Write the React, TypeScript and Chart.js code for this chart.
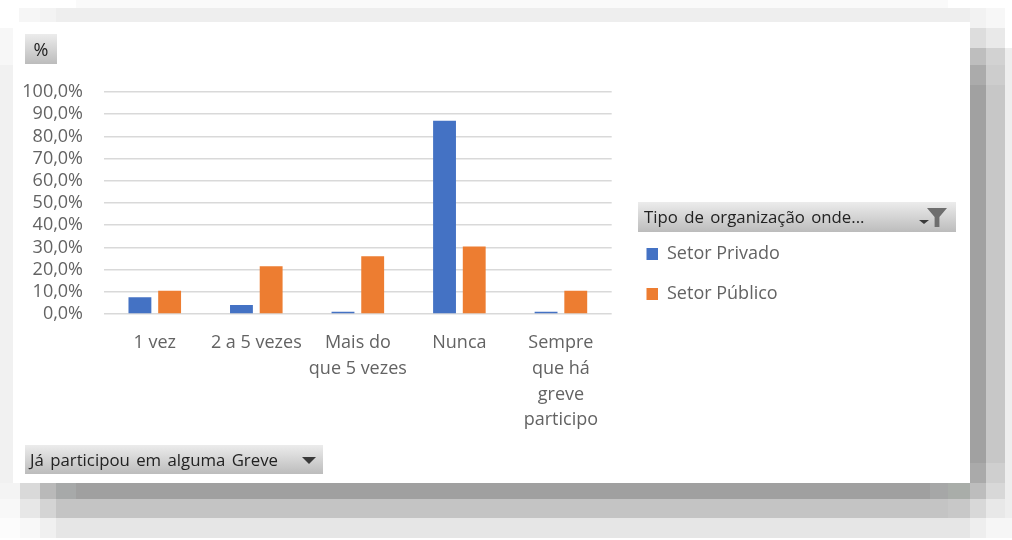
import React, { useEffect, useRef } from "react";
import { Chart, registerables } from "chart.js";

Chart.register(...registerables);

const categories = [
  "1 vez",
  "2 a 5 vezes",
  ["Mais do", "que 5 vezes"],
  "Nunca",
  ["Sempre", "que há", "greve", "participo"],
];
const setorPrivado = [7.6, 4, 1, 87, 1];
const setorPublico = [10.5, 21.5, 26, 30.4, 10.5];
const seriesNames = ["Setor Privado", "Setor Público"];
const seriesColors = ["#4472C4", "#ED7D31"];
const legendFieldLabel = "Tipo de organização onde...";
const axisFieldLabel = "Já participou em alguma Greve";
const valueFieldLabel = "%";

const FONT = "'Open Sans', 'Noto Sans', sans-serif";
const TEXT = "#636363";

// Blocky photographed backdrop behind the white card: [x, y, w, h, colour]
const backdrop: [number, number, number, number, string][] = [
  [76, 0, 872, 8, "#fafafa"],
  [19, 8, 21, 14, "#f6f6f6"],
  [40, 8, 16, 14, "#f3f3f3"],
  [56, 8, 914, 14, "#eeeeee"],
  [0, 28, 13, 37, "#f7f7f7"],
  [0, 65, 13, 418, "#f1f1f1"],
  [0, 483, 20, 16, "#f4f4f4"],
  [0, 499, 20, 19, "#f8f8f8"],
  [0, 518, 20, 20, "#fcfcfc"],
  [970, 8, 16, 20, "#f2f2f2"],
  [986, 8, 19, 20, "#f7f7f7"],
  [970, 28, 16, 20, "#dddddd"],
  [986, 28, 19, 20, "#e9e9e9"],
  [970, 48, 16, 17, "#bebebe"],
  [986, 48, 19, 17, "#d2d2d2"],
  [1005, 48, 7, 470, "#eeeeee"],
  [970, 65, 16, 20, "#ababab"],
  [986, 65, 19, 20, "#cdcdcd"],
  [970, 85, 16, 378, "#a1a1a1"],
  [986, 85, 19, 378, "#c7c7c7"],
  [970, 463, 16, 20, "#aaaaaa"],
  [986, 463, 19, 20, "#cfcfcf"],
  [20, 483, 20, 16, "#d9d9d9"],
  [40, 483, 16, 16, "#b9b9b9"],
  [56, 483, 20, 16, "#a7a9a9"],
  [76, 483, 854, 16, "#a0a0a0"],
  [930, 483, 18, 16, "#a6a7a7"],
  [948, 483, 22, 16, "#a9ada9"],
  [970, 483, 16, 16, "#bdbdbd"],
  [986, 483, 19, 16, "#d8d8d8"],
  [20, 499, 20, 19, "#e7e7e7"],
  [40, 499, 16, 19, "#d4d4d4"],
  [56, 499, 892, 19, "#c4c4c4"],
  [948, 499, 22, 19, "#c8c8c8"],
  [970, 499, 16, 19, "#d8d8d8"],
  [986, 499, 19, 19, "#e8e8e8"],
  [20, 518, 20, 20, "#f8f8f8"],
  [40, 518, 16, 20, "#f0f0f0"],
  [56, 518, 914, 20, "#e6e6e6"],
  [970, 518, 16, 20, "#eeeeee"],
  [986, 518, 26, 20, "#f6f6f6"],
];

const backdropPlugin = {
  id: "backdrop",
  beforeDraw(chart: any) {
    const { ctx } = chart;
    ctx.save();
    for (const [x, y, w, h, c] of backdrop) {
      ctx.fillStyle = c;
      ctx.fillRect(x, y, w, h);
    }
    ctx.fillStyle = "#ffffff";
    ctx.fillRect(13, 22, 957, 461);
    ctx.restore();
  },
};

const legendPlacement = {
  id: "legendPlacement",
  beforeDraw(chart: any) {
    chart.legend.left = 624.5;
    chart.legend.top = 223;
    chart.legend.right = 960;
    chart.legend.bottom = 400;
  },
};

const buttonStyle = (left: number, top: number, width: number, height: number): React.CSSProperties => ({
  position: "absolute",
  left,
  top,
  width,
  height,
  background: "linear-gradient(#ececec, #bcbcbc)",
  color: "#222222",
  fontFamily: FONT,
  fontSize: 16.8,
  lineHeight: `${height}px`,
  whiteSpace: "pre",
  filter: "blur(0.4px)",
});

export default function App() {
  const ref = useRef<HTMLCanvasElement>(null);
  useEffect(() => {
    document.body.style.margin = "0";
    const chart = new Chart(ref.current!, {
      type: "bar",
      data: {
        labels: categories as any,
        datasets: [
          { label: seriesNames[0], data: setorPrivado, backgroundColor: seriesColors[0] },
          { label: seriesNames[1], data: setorPublico, backgroundColor: seriesColors[1] },
        ],
      },
      options: {
        animation: false,
        responsive: false,
        layout: { padding: { top: 92, left: 22, right: 235, bottom: 107 } },
        datasets: { bar: { categoryPercentage: 0.585, barPercentage: 0.77 } },
        plugins: {
          tooltip: { enabled: false },
          title: { display: false },
          legend: {
            display: true,
            position: "right",
            align: "start",
            labels: {
              color: TEXT,
              boxWidth: 11.5,
              boxHeight: 12,
              padding: 22,
              font: { family: FONT, size: 18 },
            },
          },
        },
        scales: {
          x: {
            grid: { display: false },
            border: { display: false },
            afterFit: (s: any) => {
              s.height = 119;
            },
            ticks: {
              color: TEXT,
              padding: 8,
              maxRotation: 0,
              autoSkip: false,
              font: { family: FONT, size: 18, lineHeight: 25.8 / 18 },
            },
          },
          y: {
            min: 0,
            max: 100,
            grid: { color: "#d9d9d9", lineWidth: 1.5, drawTicks: false },
            border: { display: false },
            afterFit: (s: any) => {
              s.width = 82;
            },
            ticks: {
              stepSize: 10,
              autoSkip: false,
              padding: 21,
              color: TEXT,
              font: { family: FONT, size: 18 },
              callback: (v: any) => `${Number(v).toFixed(1).replace(".", ",")}%`,
            },
          },
        },
      },
      plugins: [backdropPlugin, legendPlacement],
    } as any);
    return () => chart.destroy();
  }, []);

  return (
    <div style={{ position: "absolute", left: 0, top: 0, width: 1012, height: 540, overflow: "hidden" }}>
      <canvas
        ref={ref}
        width={1012}
        height={540}
        style={{ position: "absolute", left: 0, top: 0, width: 1012, height: 540, filter: "blur(0.45px)" }}
      />
      <div style={{ ...buttonStyle(25, 34, 32, 30), textAlign: "center", fontSize: 18 }}>{valueFieldLabel}</div>
      <div style={{ ...buttonStyle(638, 202, 318, 30), paddingLeft: 6, width: 312, wordSpacing: 2 }}>
        {legendFieldLabel}
        <div style={{ position: "absolute", left: 281, top: 18, width: 0, height: 0, borderLeft: "5px solid transparent", borderRight: "5px solid transparent", borderTop: "4px solid #3a3a3a" }} />
        <div style={{ position: "absolute", left: 289, top: 6, width: 20, height: 19, background: "#6e6e6e", clipPath: "polygon(0 0, 100% 0, 62% 48%, 62% 100%, 38% 100%, 38% 48%)" }} />
      </div>
      <div style={{ ...buttonStyle(25, 445, 298, 29), paddingLeft: 5, width: 293, wordSpacing: 2 }}>
        {axisFieldLabel}
        <div style={{ position: "absolute", left: 277, top: 12, width: 0, height: 0, borderLeft: "7px solid transparent", borderRight: "7px solid transparent", borderTop: "7px solid #3a3a3a" }} />
      </div>
    </div>
  );
}
